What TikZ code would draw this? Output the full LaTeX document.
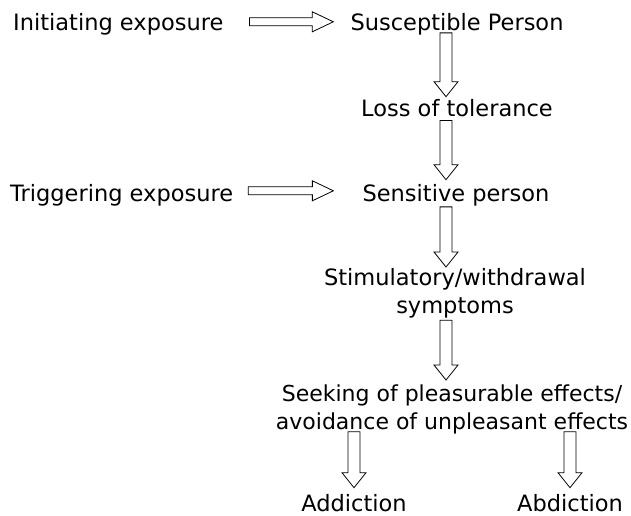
\documentclass[tikz,border=0pt]{standalone}
\usepackage{fontspec}
\setmainfont{DejaVu Sans}
\usetikzlibrary{calc}
\tikzset{
  lbl/.style={font=\fontsize{22.5}{28}\selectfont, inner sep=0pt, align=center},
  blockdown/.style={line width=0.8pt, to path={let \p1=(\tikztostart), \p2=(\tikztotarget) in
    (\x1-6pt,\y1) -- (\x1-6pt,\y2+15pt) -- (\x1-12pt,\y2+15pt) -- (\x1,\y2)
    -- (\x1+12pt,\y2+15pt) -- (\x1+6pt,\y2+15pt) -- (\x1+6pt,\y1) -- cycle}},
  blockright/.style={line width=0.8pt, to path={let \p1=(\tikztostart), \p2=(\tikztotarget) in
    (\x1,\y1+4pt) -- (\x2-21pt,\y1+4pt) -- (\x2-21pt,\y1+10pt) -- (\x2,\y1)
    -- (\x2-21pt,\y1-10pt) -- (\x2-21pt,\y1-4pt) -- (\x1,\y1-4pt) -- cycle}}
}
\begin{document}
\begin{tikzpicture}[x=1pt,y=-1pt]
\useasboundingbox (0,0) rectangle (631,515);
% texts
\node[lbl, anchor=base west] (init) at (13,30) {Initiating exposure};
\node[lbl, anchor=base] (sus) at (457,30) {Susceptible Person};
\node[lbl, anchor=base] (loss) at (457,116) {Loss of tolerance};
\node[lbl, anchor=base west] (trig) at (10,201) {Triggering exposure};
\node[lbl, anchor=base] (sens) at (456,201) {Sensitive person};
\node[lbl, anchor=north] (stim) at (455,268) {Stimulatory/withdrawal\\symptoms};
\node[lbl, font=\fontsize{22}{28}\selectfont, anchor=north] (seek) at (452,385) {Seeking of pleasurable effects/\\avoidance of unpleasant effects};
\node[lbl, anchor=base] (add) at (354,511) {Addiction};
\node[lbl, anchor=base] (abd) at (570,511) {Abdiction};
% block arrows
\draw[blockright] ([xshift=26pt,yshift=2pt]init.east) to ([xshift=-17pt,yshift=2pt]sus.west);
\draw[blockright] ([xshift=15pt,yshift=4pt]trig.east) to ([xshift=-29pt,yshift=4pt]sens.west);
\draw[blockdown] ([xshift=-11pt,yshift=2pt]sus.south) to ([xshift=-11pt,yshift=2pt]loss.north);
\draw[blockdown] ([xshift=-11pt,yshift=-4pt]loss.south) to ([xshift=-11pt,yshift=4pt]sens.north);
\draw[blockdown] ([xshift=-10pt,yshift=-1pt]sens.south) to ([xshift=-10pt,yshift=1pt]stim.north);
\draw[blockdown] ([xshift=-9pt,yshift=-2pt]stim.south) to ([xshift=-7pt,yshift=5pt]seek.north);
\draw[blockdown] ([yshift=3pt]seek.south -| add) to ([yshift=6pt]add.north);
\draw[blockdown] ([yshift=3pt]seek.south -| abd) to ([yshift=6pt]abd.north);
\end{tikzpicture}
\end{document}
